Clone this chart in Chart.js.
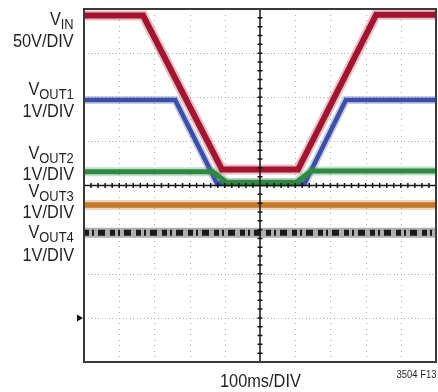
<!DOCTYPE html>
<html>
<head>
<meta charset="utf-8">
<script src="https://cdn.jsdelivr.net/npm/chart.js@4/dist/chart.umd.min.js"></script>
<style>
  body { margin: 0; background: #fff; }
  #wrap { position: relative; width: 438px; height: 392px; }
  canvas { position: absolute; left: 0; top: 0; }
  .t {
    position: absolute;
    font-family: "Liberation Sans", Arial, sans-serif;
    color: #231f20;
    white-space: nowrap;
    line-height: 1;
    transform: scaleX(0.86);
  }
  .l { right: 364px; text-align: right; font-size: 19px; transform-origin: right center; }
  .l sub { font-size: 15px; vertical-align: baseline; position: relative; top: 4px; }
</style>
</head>
<body>
<div id="wrap">
  <canvas id="scope" width="438" height="392"></canvas>
  <div class="t l" style="top:9px">V<sub>IN</sub></div>
  <div class="t l" style="top:31px">50V/DIV</div>
  <div class="t l" style="top:79px">V<sub>OUT1</sub></div>
  <div class="t l" style="top:101px">1V/DIV</div>
  <div class="t l" style="top:143px">V<sub>OUT2</sub></div>
  <div class="t l" style="top:164px">1V/DIV</div>
  <div class="t l" style="top:181px">V<sub>OUT3</sub></div>
  <div class="t l" style="top:202px">1V/DIV</div>
  <div class="t l" style="top:222px">V<sub>OUT4</sub></div>
  <div class="t l" style="top:245px">1V/DIV</div>
  <div class="t" style="top:371px;left:220px;transform-origin:left center;font-size:19px">100ms/DIV</div>
  <div class="t" style="top:369px;right:2px;transform-origin:right center;font-size:11px">3504 F13</div>
</div>
<script>
// time in ms (100ms/div), level in divisions from the bottom of the screen
const vinX = [0, 168, 392, 608, 830, 1000];
const vinY = [7.85, 7.85, 4.36, 4.36, 7.87, 7.87];
const out1X = [0, 259, 377, 628, 744, 1000];
const out1Y = [5.94, 5.94, 4.06, 4.06, 5.94, 5.94];
const out2X = [0, 366, 406, 602, 645, 1000];
const out2Y = [4.31, 4.31, 4.07, 4.07, 4.33, 4.33];
const out3X = [0, 1000];
const out3Y = [3.56, 3.56];
const out4X = [0, 1000];
const out4Y = [2.93, 2.93];

const pts = (xs, ys) => xs.map((x, i) => ({ x: x, y: ys[i] }));

function trace(xs, ys, color, width, order, dash) {
  return {
    data: pts(xs, ys),
    borderColor: color,
    borderWidth: width,
    borderDash: dash || [],
    pointRadius: 0,
    tension: 0,
    fill: false,
    order: order,
  };
}

const graticule = {
  id: "graticule",
  beforeDatasetsDraw(chart) {
    const { ctx, scales: { x, y } } = chart;
    ctx.save();
    ctx.fillStyle = "#adadad";
    for (let d = 1; d < 8; d++) {
      if (d === 4) continue;
      const py = Math.round(y.getPixelForValue(d));
      for (let t = 0; t <= 1000; t += 10) {
        ctx.fillRect(Math.round(x.getPixelForValue(t)), py, 1, 1);
      }
    }
    for (let d = 1; d < 10; d++) {
      if (d === 5) continue;
      const px = Math.round(x.getPixelForValue(d * 100));
      for (let v = 0; v <= 8; v += 0.125) {
        ctx.fillRect(px, Math.round(y.getPixelForValue(v)), 1, 1);
      }
    }
    ctx.restore();
  },
  afterDatasetsDraw(chart) {
    const { ctx, chartArea: a, scales: { x, y } } = chart;
    ctx.save();
    const cx = x.getPixelForValue(500);
    const cy = y.getPixelForValue(4);
    ctx.strokeStyle = "#151515";
    ctx.lineWidth = 1.5;
    ctx.beginPath();
    ctx.moveTo(a.left, cy); ctx.lineTo(a.right, cy);
    ctx.moveTo(cx, a.top); ctx.lineTo(cx, a.bottom);
    for (let t = 20; t < 1000; t += 20) {
      const px = x.getPixelForValue(t);
      ctx.moveTo(px, cy - 2.5); ctx.lineTo(px, cy + 2.5);
    }
    for (let v = 0.2; v < 8; v += 0.2) {
      const py = y.getPixelForValue(v);
      ctx.moveTo(cx - 2.5, py); ctx.lineTo(cx + 2.5, py);
    }
    ctx.stroke();
    // screen border
    ctx.strokeStyle = "#3a3a3a";
    ctx.lineWidth = 2;
    ctx.strokeRect(a.left, a.top, a.right - a.left, a.bottom - a.top);
    // ground marker
    const gy = y.getPixelForValue(1);
    ctx.fillStyle = "#111";
    ctx.beginPath();
    ctx.moveTo(a.left - 7, gy - 3.5);
    ctx.lineTo(a.left - 1, gy);
    ctx.lineTo(a.left - 7, gy + 3.5);
    ctx.closePath();
    ctx.fill();
    ctx.restore();
  },
};

new Chart(document.getElementById("scope").getContext("2d"), {
  type: "line",
  data: {
    datasets: [
      trace(vinX, vinY, "rgba(180,40,70,0.3)", 10, 2),
      trace(vinX, vinY, "#a3152f", 6, 1),
      trace(out2X, out2Y, "rgba(60,150,80,0.3)", 9, 4),
      trace(out2X, out2Y, "#2e8a40", 5, 3),
      trace(out1X, out1Y, "rgba(70,90,180,0.3)", 8, 6),
      trace(out1X, out1Y, "#3b4fa8", 4.5, 5),
      trace(out3X, out3Y, "rgba(205,135,60,0.35)", 10, 8),
      trace(out3X, out3Y, "#c4782b", 5.5, 7),
      trace(out4X, out4Y, "rgba(110,110,110,0.55)", 10, 10),
      trace(out4X, out4Y, "#1a1a1a", 6, 9, [5, 3, 2, 4, 7, 5]),
    ],
  },
  options: {
    responsive: false,
    animation: false,
    layout: { padding: { left: 84, right: 2, top: 9, bottom: 30 } },
    scales: {
      x: { type: "linear", min: 0, max: 1000, display: false },
      y: { type: "linear", min: 0, max: 8, display: false },
    },
    plugins: {
      legend: { display: false },
      tooltip: { enabled: false },
    },
  },
  plugins: [graticule],
});
</script>
</body>
</html>
